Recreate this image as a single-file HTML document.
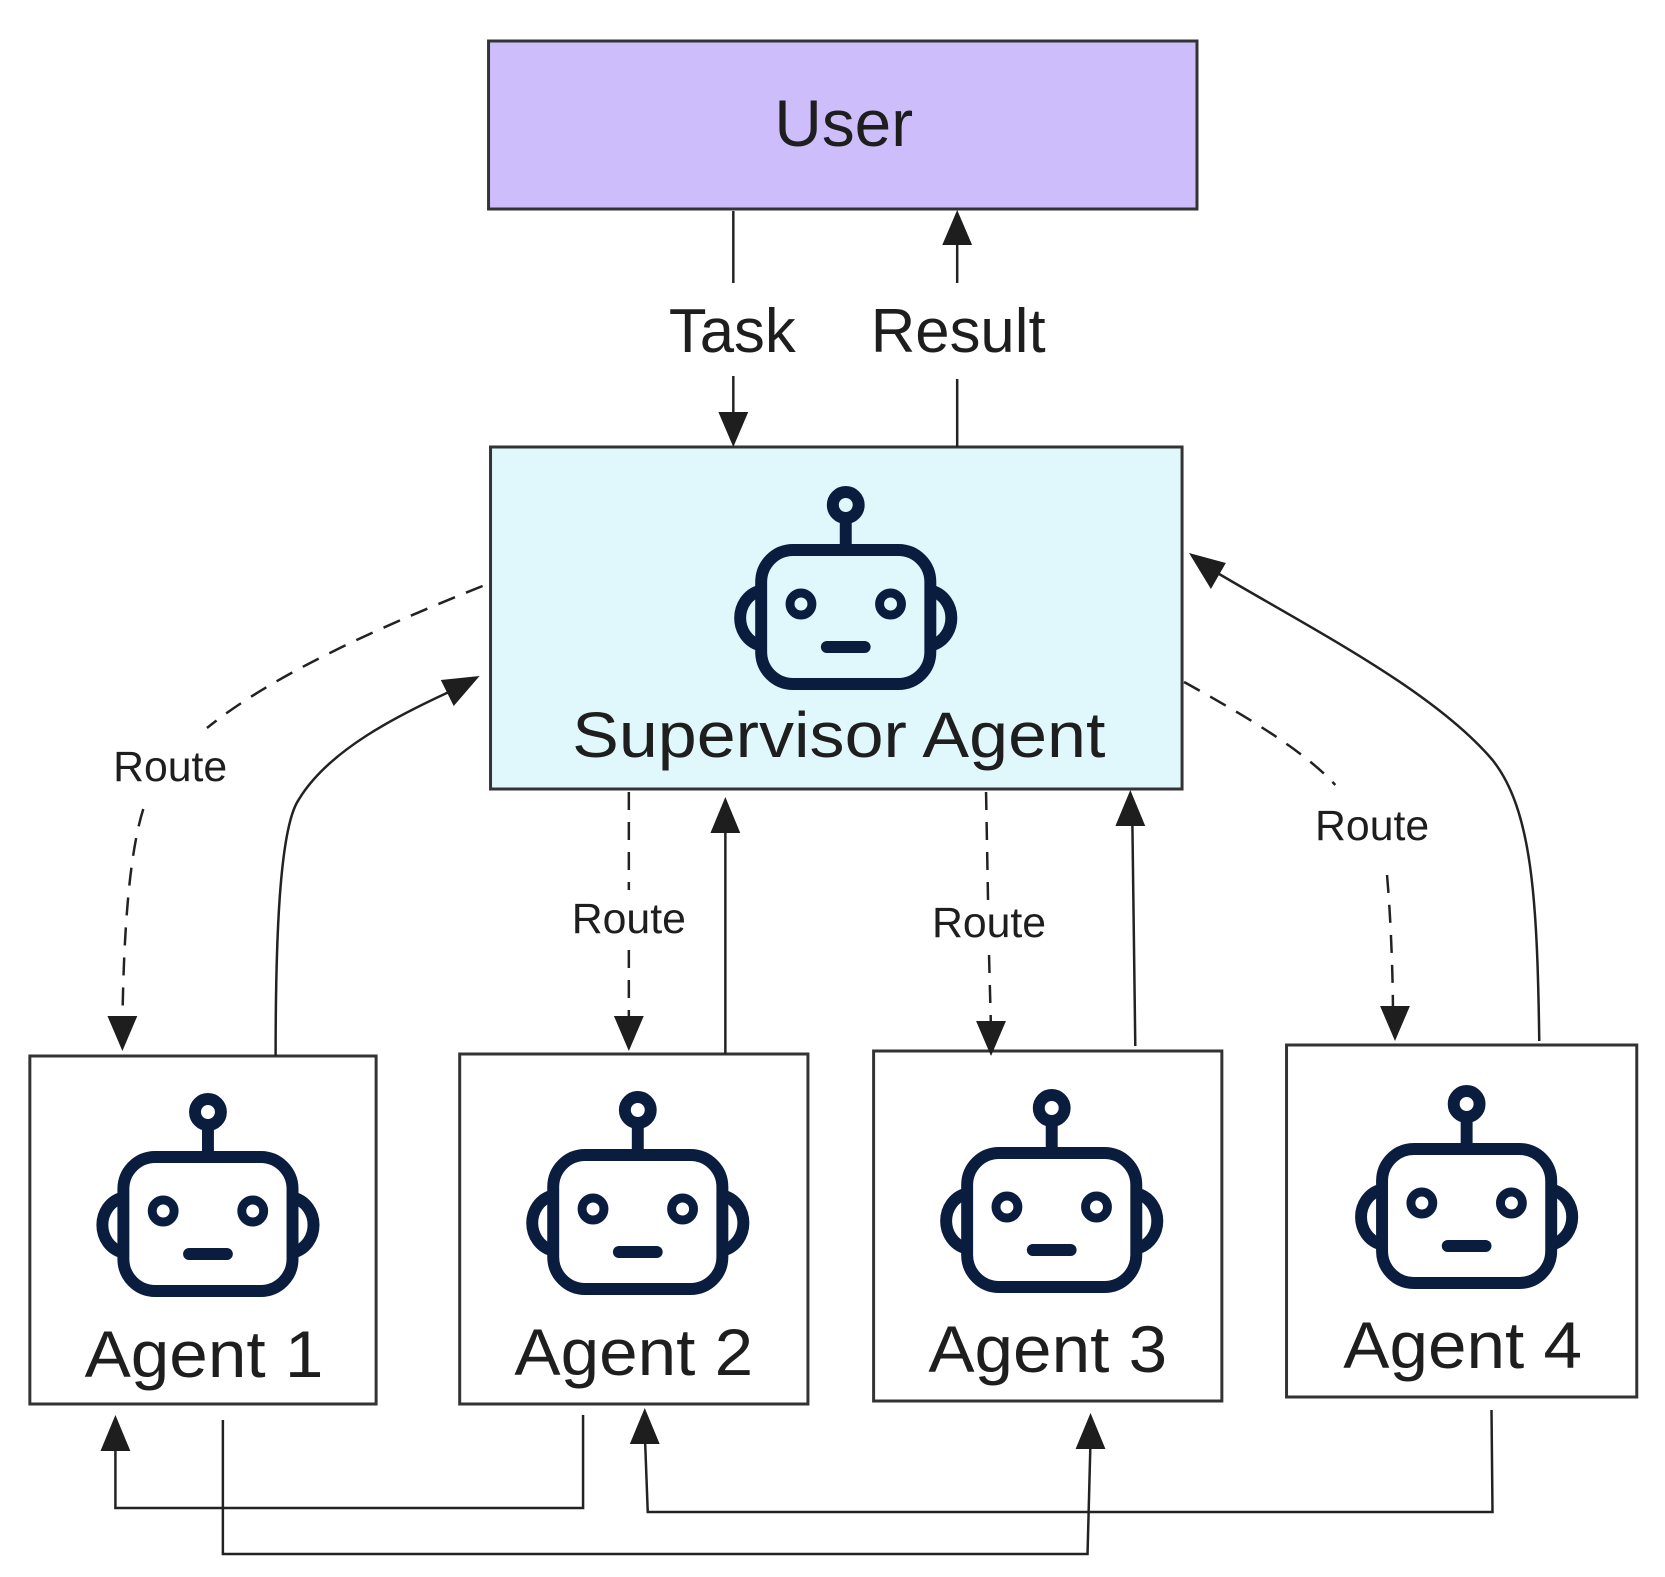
<!DOCTYPE html>
<html><head><meta charset="utf-8"><style>
html,body{margin:0;padding:0;background:#fff;}
svg{display:block;}
text{font-family:"Liberation Sans",sans-serif;fill:#1e1e1e;}
</style></head><body>
<svg width="1665" height="1577" viewBox="0 0 1665 1577" xmlns="http://www.w3.org/2000/svg">
<defs>
<g id="robot" fill="none" stroke="#0b1d3f" stroke-width="12" stroke-linecap="round">
<circle cx="0" cy="-112" r="13"/>
<line x1="0" y1="-99" x2="0" y2="-68"/>
<rect x="-85" y="-67" width="170" height="134" rx="32"/>
<circle cx="-45" cy="-13" r="11" stroke-width="9"/>
<circle cx="45" cy="-13" r="11" stroke-width="9"/>
<line x1="-19" y1="30" x2="19" y2="30"/>
<path d="M-87,-26 A26,28 0 0 0 -87,28"/>
<path d="M87,-26 A26,28 0 0 1 87,28"/>
</g>
</defs>
<g transform="scale(0.995,1)">
<rect x="491" y="41" width="712" height="168" fill="#cdbefb" stroke="#333" stroke-width="3"/>
<text x="848" y="146" font-size="66" text-anchor="middle">User</text>

<rect x="493" y="447" width="695" height="342" fill="#e0f8fb" stroke="#333" stroke-width="3"/>
<use href="#robot" x="850" y="617"/>
<text x="843" y="757" font-size="64" text-anchor="middle" textLength="536" lengthAdjust="spacingAndGlyphs">Supervisor Agent</text>

<g fill="#fff" stroke="#333" stroke-width="3">
<rect x="30" y="1056" width="348" height="348"/>
<rect x="462" y="1054" width="350" height="350"/>
<rect x="878" y="1051" width="350" height="350"/>
<rect x="1293" y="1045" width="352" height="352"/>
</g>
<use href="#robot" x="209" y="1224"/>
<use href="#robot" x="641" y="1222"/>
<use href="#robot" x="1057" y="1220"/>
<use href="#robot" x="1474" y="1216"/>
<g font-size="66" text-anchor="middle">
<text x="205" y="1377" textLength="240" lengthAdjust="spacingAndGlyphs">Agent 1</text>
<text x="637" y="1375" textLength="240" lengthAdjust="spacingAndGlyphs">Agent 2</text>
<text x="1053" y="1372" textLength="240" lengthAdjust="spacingAndGlyphs">Agent 3</text>
<text x="1470" y="1368" textLength="240" lengthAdjust="spacingAndGlyphs">Agent 4</text>
</g>

<text x="736" y="352" font-size="62" text-anchor="middle">Task</text>
<text x="963" y="352" font-size="62" text-anchor="middle">Result</text>
<g stroke="#222" stroke-width="2.5" fill="none">
<line x1="737" y1="211" x2="737" y2="283"/>
<line x1="737" y1="376" x2="737" y2="420"/>
<line x1="962" y1="447" x2="962" y2="379"/>
<line x1="962" y1="283" x2="962" y2="236"/>
<path d="M277,1056 C277,950 280,830 300,800 C330,750 400,715 460,688"/>
<line x1="729" y1="1054" x2="729" y2="825"/>
<line x1="1141" y1="1046" x2="1138" y2="818"/>
<path d="M1547,1041 C1545,900 1540,810 1500,760 C1440,690 1320,630 1215,568"/>
<polyline points="586,1415 586,1508 116,1508 116,1445"/>
<polyline points="224,1420 224,1554 1093,1554 1096,1440"/>
<polyline points="1499,1410 1500,1512 651,1512 648,1432"/>
</g>
<g stroke="#222" stroke-width="2.5" fill="none" stroke-dasharray="18,12">
<path d="M485,586 C400,620 280,670 208,728"/>
<path d="M144,809 C128,860 124,950 123,1025"/>
<line x1="632" y1="792" x2="632" y2="890"/>
<line x1="632" y1="950" x2="632" y2="1025"/>
<line x1="991" y1="792" x2="993" y2="900"/>
<line x1="994" y1="955" x2="996" y2="1030"/>
<path d="M1190,682 C1250,715 1310,750 1342,785"/>
<path d="M1394,875 C1398,920 1400,980 1400,1015"/>
</g>
<g font-size="43" text-anchor="middle">
<text x="171" y="781">Route</text>
<text x="632" y="933">Route</text>
<text x="994" y="937">Route</text>
<text x="1379" y="840">Route</text>
</g>
<g fill="#1e1e1e">
<polygon points="737,447 722,412 752,412"/>
<polygon points="962,210 947,245 977,245"/>
<polygon points="123,1051 108,1016 138,1016"/>
<polygon points="632,1051 617,1016 647,1016"/>
<polygon points="996,1056 981,1021 1011,1021"/>
<polygon points="1402,1041 1387,1006 1417,1006"/>
<polygon points="729,797 714,833 744,833"/>
<polygon points="1136,790 1121,826 1151,826"/>
<polygon points="482,676 456,706 443,680"/>
<polygon points="1195,553 1232,563 1217,589"/>
<polygon points="116,1415 101,1451 131,1451"/>
<polygon points="648,1408 633,1444 663,1444"/>
<polygon points="1096,1413 1081,1449 1111,1449"/>
</g>
</g>
</svg>
</body></html>
